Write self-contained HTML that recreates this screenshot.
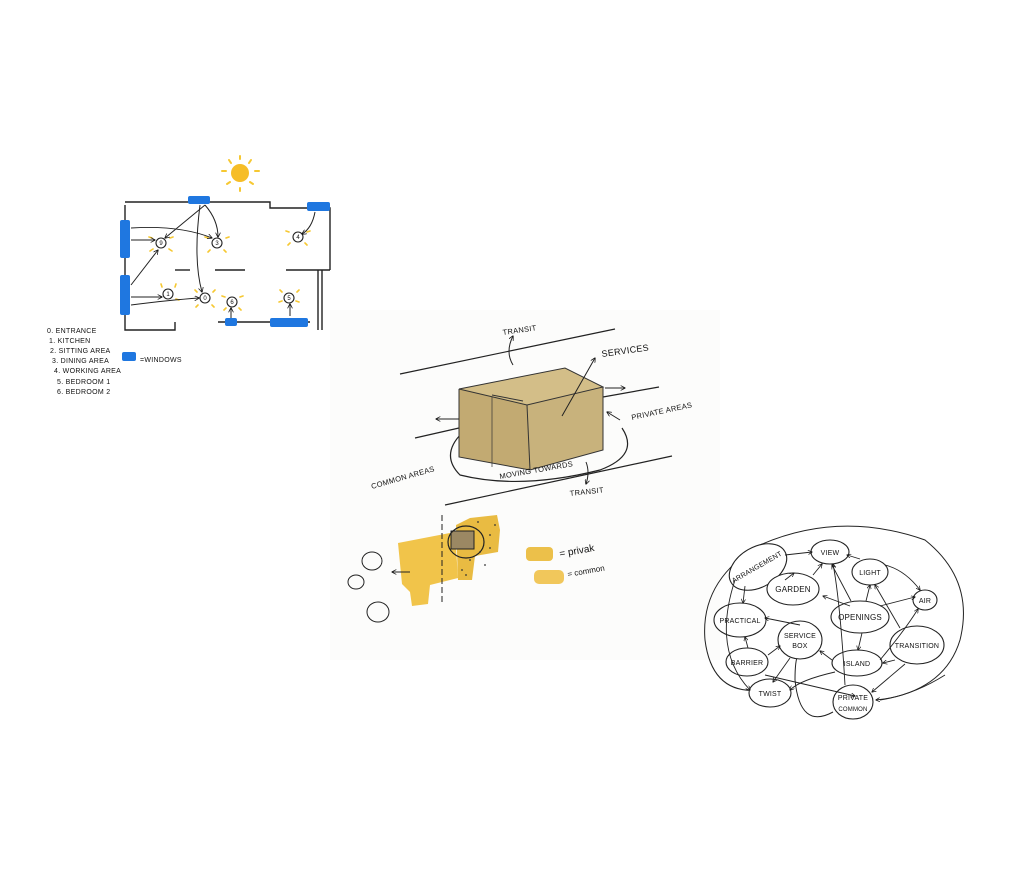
<!DOCTYPE html>
<html><head><meta charset="utf-8"><style>
html,body{margin:0;padding:0;background:#fff;}
svg{display:block;}
text{font-family:"Liberation Sans",sans-serif;fill:#111;}
</style></head><body>
<svg width="1034" height="875" viewBox="0 0 1034 875" xmlns="http://www.w3.org/2000/svg">
<defs>
<marker id="a" viewBox="0 0 10 10" refX="9" refY="5" markerWidth="5" markerHeight="5" orient="auto"><path d="M0,0 L10,5 L0,10" fill="none" stroke="#111" stroke-width="1.5"/></marker>
</defs>
<rect x="330" y="310" width="390" height="350" fill="#fcfcfb"/>
<!-- FLOOR PLAN -->
<g stroke="#222" stroke-width="1.4" fill="none">
<path d="M125,205 V330 H175 V322"/>
<path d="M125,202 H270 V208 H330 V270"/>
<path d="M318,270 V330"/><path d="M322,270 V330"/><path d="M286,270 H330"/>
<path d="M218,322 H310"/>
<path d="M175,270 H190"/><path d="M215,270 H245"/>
</g>
<g fill="#1f77e0">
<rect x="120" y="220" width="10" height="38" rx="2"/>
<rect x="120" y="275" width="10" height="40" rx="2"/>
<rect x="188" y="196" width="22" height="8" rx="2"/>
<rect x="307" y="202" width="23" height="9" rx="2"/>
<rect x="225" y="318" width="12" height="8" rx="2"/>
<rect x="270" y="318" width="38" height="9" rx="2"/>
</g>
<circle cx="240" cy="173" r="9" fill="#f6bd27"/>
<g stroke="#f6c832" stroke-width="2" stroke-linecap="round">
<path d="M240,156v3M229,160l2,3M251,160l-2,3M222,171h4M255,171h4M227,184l3,-2M253,184l-3,-2M240,188v3"/>
</g>
<g fill="#fff" stroke="#222" stroke-width="1.1">
<circle cx="161" cy="243" r="5"/><circle cx="217" cy="243" r="5"/><circle cx="298" cy="237" r="5"/>
<circle cx="168" cy="294" r="5"/><circle cx="205" cy="298" r="5"/><circle cx="232" cy="302" r="5"/><circle cx="289" cy="298" r="5"/>
</g>
<g font-size="6" text-anchor="middle"><text x="161" y="245">9</text><text x="217" y="245">3</text><text x="298" y="239">4</text><text x="168" y="296">1</text><text x="205" y="300">0</text><text x="232" y="304">6</text><text x="289" y="300">5</text></g>
<g stroke="#f6c832" stroke-width="1.6" stroke-linecap="round">
<path d="M152,238l-3,-1M170,238l3,-1M153,249l-3,2M169,249l3,2M208,238l-3,-1M226,238l3,-1M210,250l-2,2M224,250l2,2M289,232l-3,-1M307,232l3,-1M290,243l-2,2M305,243l2,2M162,287l-1,-3M175,287l1,-3M176,299l3,1M197,292l-2,-2M213,292l2,-2M198,305l-2,2M212,305l2,2M225,297l-3,-1M240,297l3,-1M226,308l-2,2M239,308l2,2M282,292l-2,-2M297,292l2,-2M282,301l-3,1M296,301l3,1"/>
</g>
<g stroke="#222" stroke-width="1" fill="none" marker-end="url(#a)">
<path d="M131,240 H155"/><path d="M131,228 Q180,225 212,238"/><path d="M131,285 L158,250"/>
<path d="M205,205 L165,238"/><path d="M205,205 Q218,220 218,237"/><path d="M200,205 Q193,260 202,292"/>
<path d="M315,212 Q312,228 302,234"/><path d="M131,297 H162"/><path d="M131,305 Q170,300 199,298"/>
<path d="M231,318 V308"/><path d="M290,316 V304"/>
</g>
<g font-size="7" letter-spacing="0.3">
<text x="47" y="333">0. ENTRANCE</text><text x="49" y="343">1. KITCHEN</text><text x="50" y="353">2. SITTING AREA</text><text x="52" y="363">3. DINING AREA</text><text x="54" y="373">4. WORKING AREA</text><text x="57" y="384">5. BEDROOM 1</text><text x="57" y="394">6. BEDROOM 2</text>
<text x="140" y="362">=WINDOWS</text>
</g>
<rect x="122" y="352" width="14" height="9" rx="2" fill="#1f77e0"/>
<!-- BOX -->
<g stroke="#222" stroke-width="1.2" fill="none">
<path d="M400,374 L615,329"/><path d="M415,438 L459,428"/><path d="M603,397 L659,387"/><path d="M445,505 L672,456"/>
<path d="M462,433 Q440,455 460,475 Q520,490 600,470 Q640,455 622,428"/>
</g>
<polygon points="459,389 565,368 603,387 527,405" fill="#d3be88"/>
<polygon points="459,389 527,405 530,470 459,457" fill="#c2aa72"/>
<polygon points="527,405 603,387 603,450 530,470" fill="#c8b27c"/>
<g stroke="#333" stroke-width="1" fill="none">
<path d="M459,389 L565,368 L603,387 L527,405 Z"/><path d="M459,389 V457 L530,470 L603,450 V387"/><path d="M527,405 L530,470"/><path d="M492,395 L523,401"/><path d="M492,397 V467" stroke-width="0.7"/>
</g>
<g stroke="#222" stroke-width="1" fill="none" marker-end="url(#a)">
<path d="M562,416 L595,358"/><path d="M459,419 H436"/><path d="M605,388 H625"/><path d="M513,365 Q505,352 513,336"/><path d="M586,462 Q590,472 586,484"/><path d="M620,420 L607,412"/>
</g>
<g font-size="7.5" letter-spacing="0.3">
<text x="503" y="335" transform="rotate(-8 503 335)">TRANSIT</text>
<text x="602" y="357" transform="rotate(-8 602 357)" font-size="9">SERVICES</text>
<text x="632" y="420" transform="rotate(-12 632 420)">PRIVATE AREAS</text>
<text x="372" y="489" transform="rotate(-16 372 489)">COMMON AREAS</text>
<text x="500" y="479" transform="rotate(-10 500 479)">MOVING TOWARDS</text>
<text x="570" y="496" transform="rotate(-6 570 496)">TRANSIT</text>
</g>
<!-- SITE PLAN -->
<path d="M398,543 L455,532 L458,578 L430,585 L428,604 L412,606 L410,592 L402,584 Z" fill="#f1c44a"/>
<path d="M456,525 L470,518 L497,515 L500,530 L498,552 L475,556 L472,580 L458,580 Z" fill="#e9bb42"/>
<rect x="451" y="531" width="23" height="18" fill="#9b8863" stroke="#222"/>
<ellipse cx="466" cy="542" rx="18" ry="16" fill="none" stroke="#222" stroke-width="1.2"/>
<path d="M442,515 V605" stroke="#222" stroke-dasharray="6,3"/>
<g fill="#333"><circle cx="470" cy="560" r="0.9"/><circle cx="480" cy="552" r="0.9"/><circle cx="490" cy="535" r="0.9"/><circle cx="462" cy="570" r="0.9"/><circle cx="485" cy="565" r="0.9"/><circle cx="495" cy="525" r="0.9"/><circle cx="466" cy="575" r="0.9"/><circle cx="478" cy="522" r="0.9"/><circle cx="490" cy="548" r="0.9"/></g>
<path d="M410,572 H392" stroke="#222" marker-end="url(#a)"/>
<g fill="none" stroke="#222"><ellipse cx="372" cy="561" rx="10" ry="9"/><ellipse cx="356" cy="582" rx="8" ry="7"/><ellipse cx="378" cy="612" rx="11" ry="10"/></g>
<rect x="526" y="547" width="27" height="14" rx="4" fill="#ecc04a"/>
<rect x="534" y="570" width="30" height="14" rx="5" fill="#f1c75b"/>
<text x="560" y="557" font-size="10" transform="rotate(-10 560 557)">= privak</text>
<text x="568" y="577" font-size="8" transform="rotate(-10 568 577)">= common</text>
<!-- MIND MAP -->
<g fill="none" stroke="#222" stroke-width="1">
<path d="M760,545 Q840,510 925,540 Q975,580 960,640 Q945,690 880,700"/>
<path d="M760,545 Q700,580 705,640 Q712,695 760,690"/>
<path d="M833,712 Q800,730 795,680 Q795,660 798,655"/>
</g>
<g fill="#fff" stroke="#222" stroke-width="1.1">
<ellipse cx="758" cy="567" rx="31" ry="20" transform="rotate(-30 758 567)"/>
<ellipse cx="830" cy="552" rx="19" ry="12"/><ellipse cx="870" cy="572" rx="18" ry="13"/>
<ellipse cx="793" cy="589" rx="26" ry="16"/><ellipse cx="925" cy="600" rx="12" ry="10"/>
<ellipse cx="860" cy="617" rx="29" ry="16"/><ellipse cx="740" cy="620" rx="26" ry="17"/>
<ellipse cx="800" cy="640" rx="22" ry="19"/><ellipse cx="917" cy="645" rx="27" ry="19"/>
<ellipse cx="747" cy="662" rx="21" ry="14"/><ellipse cx="857" cy="663" rx="25" ry="13"/>
<ellipse cx="770" cy="693" rx="21" ry="14"/><ellipse cx="853" cy="702" rx="20" ry="17"/>
</g>
<g stroke="#222" stroke-width="0.9" fill="none" marker-end="url(#a)">
<path d="M785,555 L812,552"/><path d="M785,580 L794,573"/><path d="M813,575 L822,564"/><path d="M850,606 L823,596"/>
<path d="M851,601 L832,565"/><path d="M866,601 L870,585"/><path d="M880,606 L915,597"/><path d="M860,559 L847,555"/>
<path d="M885,565 Q905,570 920,590"/><path d="M862,633 L858,650"/><path d="M745,586 L743,603"/><path d="M800,625 L765,618"/>
<path d="M748,648 L745,637"/><path d="M768,655 L780,646"/><path d="M832,660 L820,651"/><path d="M845,685 Q840,600 833,564"/>
<path d="M880,660 Q905,630 918,609"/><path d="M900,628 L875,585"/><path d="M895,660 L883,663"/><path d="M905,664 L872,692"/>
<path d="M835,672 Q800,680 790,690"/><path d="M765,675 L855,696"/><path d="M790,658 L773,682"/><path d="M735,580 Q712,650 750,690"/><path d="M945,675 Q910,697 876,700"/>
</g>
<g font-size="7" text-anchor="middle" letter-spacing="0.2">
<text x="758" y="569" transform="rotate(-30 758 569)">ARRANGEMENT</text>
<text x="830" y="555">VIEW</text><text x="870" y="575">LIGHT</text><text x="793" y="592" font-size="8">GARDEN</text>
<text x="925" y="603">AIR</text><text x="860" y="620" font-size="8">OPENINGS</text><text x="740" y="623">PRACTICAL</text>
<text x="800" y="638">SERVICE</text><text x="800" y="648">BOX</text><text x="917" y="648">TRANSITION</text>
<text x="747" y="665">BARRIER</text><text x="857" y="666">ISLAND</text><text x="770" y="696">TWIST</text>
<text x="853" y="700">PRIVATE</text><text x="853" y="711" font-size="6">COMMON</text>
</g>
</svg>
</body></html>
